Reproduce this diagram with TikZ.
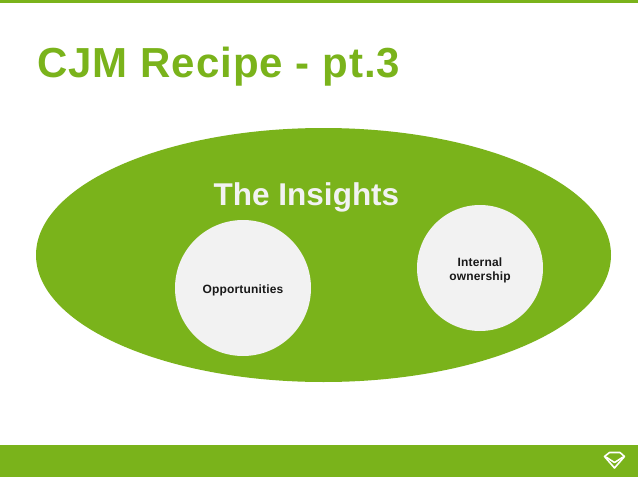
\documentclass[tikz,border=0pt]{standalone}
\usepackage{fontspec}
\usetikzlibrary{shapes.geometric}
\setmainfont{Liberation Sans}
\newfontfamily\titlefont[LetterSpace=2.4]{Liberation Sans}
\newfontfamily\smallfont[LetterSpace=1.5]{Liberation Sans}
\definecolor{brand}{HTML}{7AB31B}
\definecolor{disc}{HTML}{F2F2F2}
\tikzset{
  bubble/.style={circle,fill=disc,draw=none,inner sep=0pt},
  bubbletext/.style={anchor=base,inner sep=0pt,text=black!90,font=\smallfont\bfseries\fontsize{12}{14}\selectfont},
  band/.style={fill=brand,draw=none}
}
\begin{document}
\begin{tikzpicture}[x=1pt,y=-1pt]
\useasboundingbox (0,0) rectangle (638,479);
\fill[white] (0,0) rectangle (638,479);
\fill[band] (0,0) rectangle (638,3);
\fill[band] (0,445) rectangle (638,477);
\node[anchor=base west,inner sep=0pt,text=brand,font=\titlefont\bfseries\fontsize{42}{46}\selectfont] (title) at (37,77) {CJM Recipe - pt.3};
\node[ellipse,fill=brand,minimum width=575pt,minimum height=254pt,inner sep=0pt] (oval) at (323.5,255) {};
\node[anchor=base,inner sep=0pt,text=disc,font=\bfseries\fontsize{31.5}{34}\selectfont] (ins) at (306.5,205) {The Insights};
\node[bubble,minimum size=136pt] (opp) at (243,288) {};
\node[bubble,minimum size=126pt] (own) at (480,268) {};
\node[bubbletext] (opptext) at (243,293) {Opportunities};
\node[bubbletext] (owntext1) at (480,266) {Internal};
\node[bubbletext] (owntext2) at (480,280) {ownership};
\draw[white,line width=1.6pt,line join=round] (604.5,456.5) -- (609.5,452.5) -- (620,452.5) -- (624.5,456.5) -- (614.5,468) -- cycle;
\draw[white,line width=1.6pt,line join=round] (606,457) -- (610.5,460) -- (614.5,462.5) -- (618.5,460) -- (623,457);
\end{tikzpicture}
\end{document}
